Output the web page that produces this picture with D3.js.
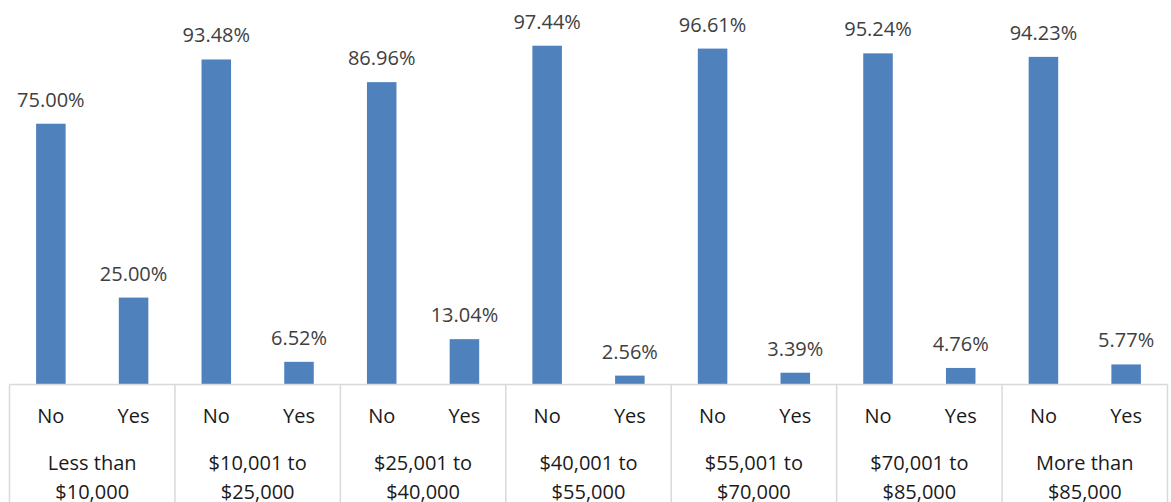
<!DOCTYPE html>
<html>
<head>
<meta charset="utf-8">
<script src="https://cdn.jsdelivr.net/npm/d3@7/dist/d3.min.js"></script>
<style>
  html, body { margin: 0; padding: 0; background: #fff; }
  svg { display: block; font-family: "Open Sans", sans-serif; }
</style>
</head>
<body>
<svg id="chart" width="1171" height="502"></svg>
<script>
// Income brackets (two-line labels) and the answer groups within each
const categories = [
  ["Less than", "$10,000"],
  ["$10,001 to", "$25,000"],
  ["$25,001 to", "$40,000"],
  ["$40,001 to", "$55,000"],
  ["$55,001 to", "$70,000"],
  ["$70,001 to", "$85,000"],
  ["More than", "$85,000"]
];
const answers = ["No", "Yes"];
const noValues  = [75.00, 93.48, 86.96, 97.44, 96.61, 95.24, 94.23];
const yesValues = [25.00, 6.52, 13.04, 2.56, 3.39, 4.76, 5.77];

const svg = d3.select("#chart");
const left = 9.5, right = 1167.5, baseline = 384.5, top100 = 36.8;

const catKeys = categories.map(c => c.join(" "));
const x0 = d3.scaleBand().domain(catKeys).range([left, right]).padding(0);
const x1 = d3.scaleBand().domain(answers).range([0, x0.bandwidth()]).padding(0);
const y = d3.scaleLinear().domain([0, 100]).range([baseline, top100]);
const barW = x1.bandwidth() * 0.357;

const rows = [];
catKeys.forEach((k, i) => {
  rows.push({ cat: k, ans: "No", v: noValues[i] });
  rows.push({ cat: k, ans: "Yes", v: yesValues[i] });
});
const cx = d => x0(d.cat) + x1(d.ans) + x1.bandwidth() / 2;

// Bars
svg.append("g").selectAll("rect").data(rows).join("rect")
  .attr("x", d => cx(d) - barW / 2)
  .attr("y", d => y(d.v))
  .attr("width", barW)
  .attr("height", d => y(0) - y(d.v))
  .attr("fill", "#4F81BD");

// Value labels
svg.append("g").selectAll("text").data(rows).join("text")
  .attr("x", cx)
  .attr("y", d => y(d.v) - 17)
  .attr("text-anchor", "middle")
  .attr("font-size", 20)
  .attr("fill", "#404040")
  .text(d => d.v.toFixed(2) + "%");

// Axis frame: baseline and bracket separators
const grid = svg.append("g").attr("stroke", "#D9D9D9").attr("stroke-width", 1.5);
grid.append("line").attr("x1", left).attr("x2", right).attr("y1", baseline).attr("y2", baseline);
const seps = catKeys.map(k => x0(k)).concat([right]);
grid.selectAll("line.sep").data(seps).join("line").attr("class", "sep")
  .attr("x1", d => d).attr("x2", d => d)
  .attr("y1", baseline).attr("y2", 502);

// Inner answer labels
svg.append("g").selectAll("text").data(rows).join("text")
  .attr("x", cx)
  .attr("y", 423)
  .attr("text-anchor", "middle")
  .attr("font-size", 20)
  .attr("fill", "#1a1a1a")
  .text(d => d.ans);

// Outer bracket labels
const outer = svg.append("g").selectAll("text").data(categories).join("text")
  .attr("x", (d, i) => x0(catKeys[i]) + x0.bandwidth() / 2)
  .attr("text-anchor", "middle")
  .attr("font-size", 20)
  .attr("fill", "#1a1a1a");
outer.append("tspan").attr("x", function () { return this.parentNode.getAttribute("x"); })
  .attr("y", 470).text(d => d[0]);
outer.append("tspan").attr("x", function () { return this.parentNode.getAttribute("x"); })
  .attr("y", 498.5).text(d => d[1]);
</script>
</body>
</html>
